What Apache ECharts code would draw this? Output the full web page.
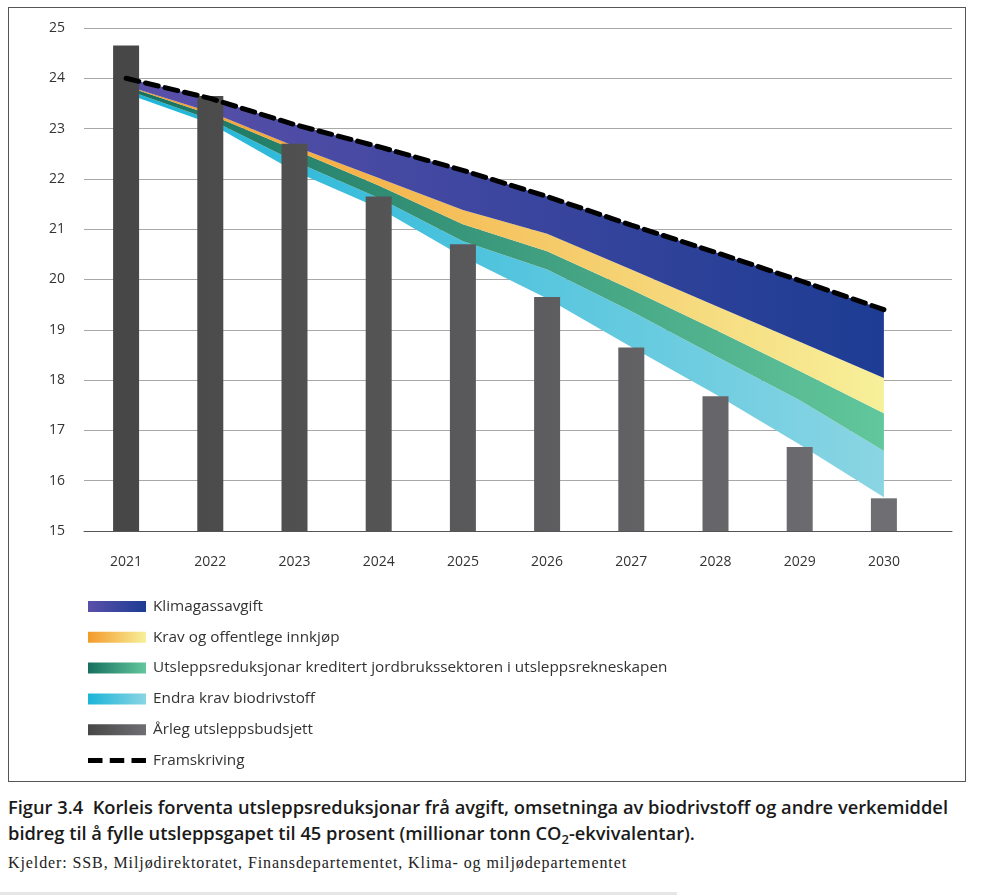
<!DOCTYPE html>
<html>
<head>
<meta charset="utf-8">
<script src="https://cdn.jsdelivr.net/npm/echarts@6/dist/echarts.min.js"></script>
<style>
  html, body { margin: 0; padding: 0; background: #fff; }
  #wrap { position: relative; width: 984px; height: 896px; }
  #chart { position: absolute; left: 0; top: 0; width: 984px; height: 790px; }
  #frame { position: absolute; left: 8px; top: 7px; width: 958px; height: 775px; border: 1px solid #555; box-sizing: border-box; pointer-events: none; }
  #caption { position: absolute; left: 8px; top: 794px; font-family: 'Open Sans', sans-serif; font-weight: 600; font-size: 18.3px; line-height: 26px; color: #1a1a1a; }
  #caption sub { font-size: 13px; vertical-align: -4px; line-height: 0; }
  #source { position: absolute; left: 8px; top: 854px; font-family: 'Liberation Serif', serif; font-size: 16px; letter-spacing: 0.9px; color: #222; }
  #rule { position: absolute; left: 0; top: 892px; width: 677px; height: 3px; background: #e6e6e6; }
</style>
</head>
<body>
<div id="wrap">
  <div id="chart"></div>
  <div id="frame"></div>
  <div id="caption">Figur 3.4&nbsp; Korleis forventa utsleppsreduksjonar frå avgift, omsetninga av biodrivstoff og andre verkemiddel<br>bidreg til å fylle utsleppsgapet til 45 prosent (millionar tonn CO<sub>2</sub>-ekvivalentar).</div>
  <div id="source">Kjelder: SSB, Miljødirektoratet, Finansdepartementet, Klima- og miljødepartementet</div>
  <div id="rule"></div>
</div>
<script>
// år
const years = ['2021', '2022', '2023', '2024', '2025', '2026', '2027', '2028', '2029', '2030'];
// årleg utsleppsbudsjett (søyler)
const budsjett = [24.65, 23.65, 22.7, 21.65, 20.7, 19.65, 18.65, 17.68, 16.67, 15.65];
// framskriving (stipla linje) = toppen av stabelen
const framskriving = [24.0, 23.6, 23.08, 22.64, 22.17, 21.65, 21.08, 20.54, 19.98, 19.4];
// nedre kant av kvart felt
const klimaBunn = [23.85, 23.33, 22.65, 22.02, 21.38, 20.91, 20.2, 19.48, 18.76, 18.04];
const kravBunn = [23.84, 23.28, 22.58, 21.87, 21.1, 20.56, 19.8, 19.0, 18.18, 17.34];
const jordbrukBunn = [23.77, 23.18, 22.35, 21.62, 20.76, 20.2, 19.37, 18.48, 17.6, 16.59];
const bioBunn = [23.7, 23.1, 22.15, 21.42, 20.45, 19.62, 18.66, 17.72, 16.72, 15.67];
const yTicks = [15, 25, 1]; // min, max, steg

const names = [
  'Klimagassavgift',
  'Krav og offentlege innkjøp',
  'Utsleppsreduksjonar kreditert jordbrukssektoren i utsleppsrekneskapen',
  'Endra krav biodrivstoff',
  'Årleg utsleppsbudsjett',
  'Framskriving'
];

const GL = 84, GR = 952, GR2 = 926;
const hGrad = (c0, c1, global) => global
  ? { type: 'linear', x: 126, y: 0, x2: 884, y2: 0, global: true, colorStops: [{ offset: 0, color: c0 }, { offset: 1, color: c1 }] }
  : { type: 'linear', x: 0, y: 0, x2: 1, y2: 0, colorStops: [{ offset: 0, color: c0 }, { offset: 1, color: c1 }] };

const colours = [
  ['#5b50aa', '#1d3c93'],
  ['#f39a2a', '#f7f09a'],
  ['#17705f', '#62c79c'],
  ['#1bb4d8', '#8ad5e3'],
  ['#474747', '#6f6e72']
];

const diff = (a, b) => a.map((v, i) => +(v - b[i]).toFixed(3));

const areaSeries = (name, vals, c) => ({
  name: name,
  type: 'line',
  xAxisIndex: 1,
  yAxisIndex: 1,
  stack: 'gap',
  symbol: 'none',
  lineStyle: { width: 0 },
  areaStyle: { color: hGrad(c[0], c[1], true), opacity: 1 },
  z: 1,
  data: vals
});

const myChart = echarts.init(document.getElementById('chart'));

const option = {
  animation: false,
  textStyle: { fontFamily: 'Open Sans' },
  grid: [
    { left: GL, right: 984 - GR, top: 28, height: 503 },
    { left: GL, right: 984 - GR2, top: 28, height: 503 }
  ],
  xAxis: [
    {
      gridIndex: 0,
      type: 'value',
      min: 0,
      max: 1,
      axisLabel: { show: false },
      axisTick: { show: false },
      splitLine: { show: false },
      axisLine: { show: true, lineStyle: { color: '#555', width: 1 } }
    },
    {
      gridIndex: 1,
      type: 'category',
      data: years,
      axisLine: { show: false },
      axisTick: { show: false },
      axisLabel: { margin: 24, fontSize: 14, color: '#333' }
    }
  ],
  yAxis: [
    {
      gridIndex: 0,
      type: 'value',
      min: yTicks[0],
      max: yTicks[1],
      interval: yTicks[2],
      axisLine: { show: false },
      axisTick: { show: false },
      axisLabel: { margin: 19, fontSize: 14, color: '#333' },
      splitLine: { lineStyle: { color: '#a8a8a8', width: 1 } }
    },
    {
      gridIndex: 1,
      type: 'value',
      min: yTicks[0],
      max: yTicks[1],
      interval: yTicks[2],
      show: false
    }
  ],
  legend: {
    orient: 'vertical',
    left: 83,
    top: 594,
    padding: 5,
    itemWidth: 58,
    itemHeight: 11,
    itemGap: 15.8,
    textStyle: { fontSize: 15.3, color: '#333', fontFamily: 'Open Sans', padding: [0, 0, 0, 2] },
    data: names.map((n, i) => i < 5
      ? { name: n, icon: 'rect', itemStyle: { color: hGrad(colours[i][0], colours[i][1], false) } }
      : { name: n, icon: 'path://M0,0h14v5h-14z M21,0h14v5h-14z M42,0h14v5h-14z', itemStyle: { color: '#000' } })
  },
  series: [
    {
      name: 'base',
      type: 'line',
      xAxisIndex: 1,
      yAxisIndex: 1,
      stack: 'gap',
      symbol: 'none',
      lineStyle: { width: 0 },
      z: 1,
      data: bioBunn
    },
    areaSeries(names[3], diff(jordbrukBunn, bioBunn), colours[3]),
    areaSeries(names[2], diff(kravBunn, jordbrukBunn), colours[2]),
    areaSeries(names[1], diff(klimaBunn, kravBunn), colours[1]),
    areaSeries(names[0], diff(framskriving, klimaBunn), colours[0]),
    {
      name: names[4],
      type: 'bar',
      xAxisIndex: 1,
      yAxisIndex: 1,
      barWidth: 26,
      z: 3,
      itemStyle: { color: hGrad(colours[4][0], colours[4][1], true) },
      data: budsjett
    },
    {
      name: names[5],
      type: 'line',
      xAxisIndex: 1,
      yAxisIndex: 1,
      symbol: 'none',
      z: 5,
      itemStyle: { color: '#000' },
      lineStyle: { color: '#000', width: 5, type: [13, 7], cap: 'round' },
      data: framskriving
    }
  ]
};

myChart.setOption(option);
window.addEventListener('resize', () => {
  myChart.resize();
});
</script>
</body>
</html>
